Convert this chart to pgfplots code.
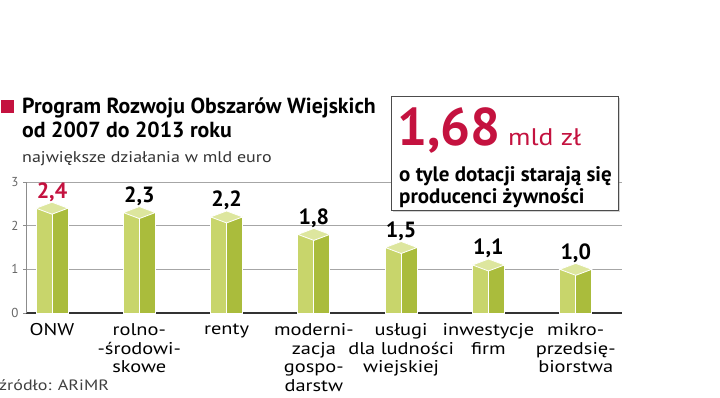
\documentclass[border=0pt]{standalone}
\usepackage{fontspec}
\setmainfont{PT Sans}
\newfontfamily\catfont{PT Sans}[FakeStretch=1.2]
\newfontfamily\subfont{PT Sans}[FakeStretch=1.16]
\newfontfamily\mldfont{PT Sans}[FakeStretch=1.15]
\usepackage{pgfplots}
\pgfplotsset{compat=1.18}
\usetikzlibrary{shadows}
\definecolor{redc}{HTML}{C4123F}
\definecolor{barL}{HTML}{C8D56B}
\definecolor{barD}{HTML}{AABC3C}
\definecolor{barT}{HTML}{DDE69E}
\pgfdeclareplotmark{cap}{%
  \pgfpathmoveto{\pgfqpoint{-16pt}{0pt}}%
  \pgfpathlineto{\pgfqpoint{0pt}{-6pt}}%
  \pgfpathlineto{\pgfqpoint{16pt}{0pt}}%
  \pgfpathlineto{\pgfqpoint{0pt}{6pt}}%
  \pgfpathclose
  \pgfusepathqfillstroke}
\begin{document}
\begin{tikzpicture}
\path[use as bounding box] (0,0) rectangle (720pt,-397pt);
\begin{axis}[
  at={(26pt,-313pt)}, anchor=south west,
  scale only axis, width=596pt, height=131pt,
  xmin=-0.298, xmax=6.53, ymin=0, ymax=3,
  axis x line*=bottom, axis y line*=left,
  x axis line style={-, line width=2.5pt, color=black!80},
  y axis line style={-, color=black!45, line width=0.8pt},
  ytick={0,1,2,3},
  yticklabel style={font=\fontsize{13}{13}\selectfont, text=black!60, xshift=-1pt},
  /pgf/number format/assume math mode=true,
  ytick style={color=black!45, line width=0.8pt},
  tick align=outside, major tick length=3pt,
  xtick={0,...,6},
  x tick style={draw=none},
  xticklabels={ONW,{rolno-\\-środowi-\\skowe},renty,{moderni-\\zacja\\gospo-\\darstw},{usługi\\dla ludności\\wiejskiej},{inwestycje\\firm},{mikro-\\przedsię-\\biorstwa}},
  xticklabel style={align=center, font=\catfont\fontsize{17}{18.7}\selectfont, anchor=north, yshift=-4pt},
  ymajorgrids, grid style={black!35, line width=0.8pt},
  clip=false,
]
\addplot[ybar, bar width=16pt, bar shift=-8pt, fill=barL, draw=white, line width=0.8pt]
  coordinates {(0,2.4) (1,2.3) (2,2.2) (3,1.8) (4,1.5) (5,1.1) (6,1.0)};
\addplot[ybar, bar width=16pt, bar shift=8pt, fill=barD, draw=white, line width=0.8pt]
  coordinates {(0,2.4) (1,2.3) (2,2.2) (3,1.8) (4,1.5) (5,1.1) (6,1.0)};
\addplot[only marks, mark=cap, mark options={fill=barT, draw=white, line width=0.8pt},
  point meta=explicit symbolic, nodes near coords,
  every node near coord/.append style={font=\bfseries\fontsize{22}{22}\selectfont, anchor=base, yshift=10pt, inner sep=0pt}]
  coordinates {(0,2.4)[\textcolor{redc}{2,4}] (1,2.3)[2,3] (2,2.2)[2,2] (3,1.8)[1,8] (4,1.5)[1,5] (5,1.1)[1,1] (6,1.0)[1,0]};
\end{axis}
\fill[redc] (1pt,-100pt) rectangle (14pt,-113pt);
\node[anchor=base west, inner sep=0pt, font=\bfseries\fontsize{21.8}{21.8}\selectfont] at (22pt,-113pt) {Program Rozwoju Obszarów Wiejskich};
\node[anchor=base west, inner sep=0pt, font=\bfseries\fontsize{21.8}{21.8}\selectfont] at (22pt,-137pt) {od 2007 do 2013 roku};
\node[anchor=base west, inner sep=0pt, font=\subfont\fontsize{15.5}{15.5}\selectfont, text=black!80] at (22pt,-162pt) {największe działania w mld euro};
\draw[black!70, fill=white, line width=0.8pt, drop shadow={shadow xshift=2pt, shadow yshift=-2pt, opacity=0.35}] (391pt,-96pt) rectangle (618pt,-210pt);
\node[anchor=base west, inner sep=0pt, font=\bfseries\fontsize{53}{53}\selectfont, text=redc] at (397pt,-145pt) {1,68};
\node[anchor=base west, inner sep=0pt, font=\mldfont\fontsize{24}{24}\selectfont, text=redc] at (508pt,-145pt) {mld zł};
\node[anchor=base west, inner sep=0pt, font=\bfseries\fontsize{21}{21}\selectfont] at (399pt,-181pt) {o tyle dotacji starają się};
\node[anchor=base west, inner sep=0pt, font=\bfseries\fontsize{21}{21}\selectfont] at (399pt,-203pt) {producenci żywności};
\node[anchor=base west, inner sep=0pt, font=\catfont\fontsize{15}{15}\selectfont, text=black!75] at (-1pt,-390pt) {źródło: ARiMR};
\end{tikzpicture}
\end{document}
